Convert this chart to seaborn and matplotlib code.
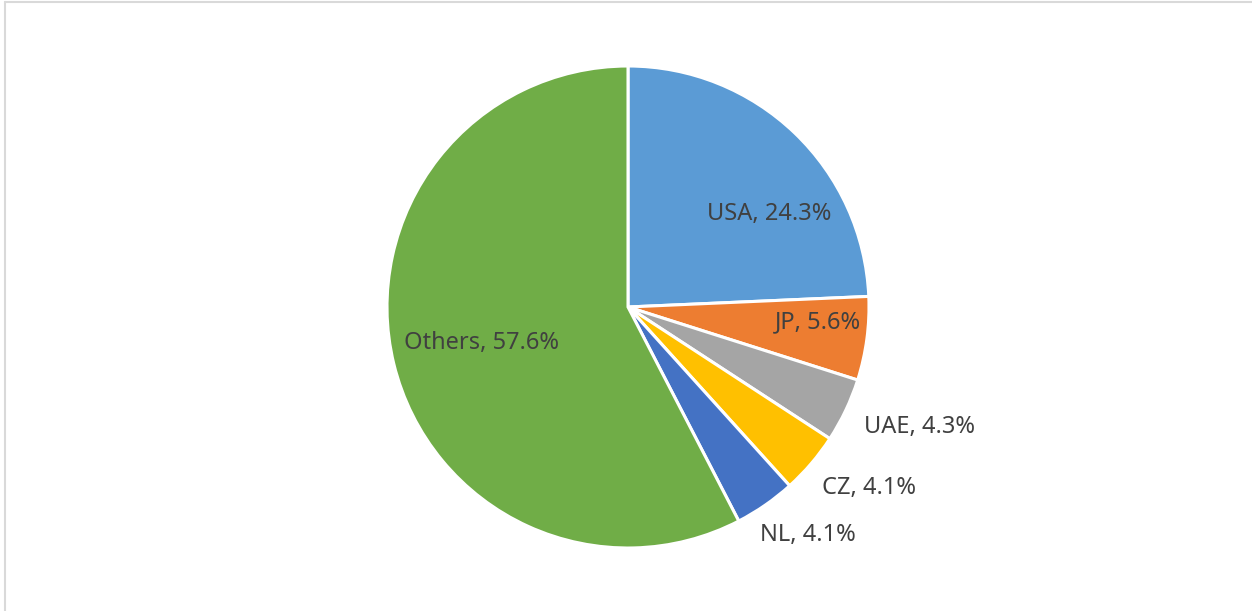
import numpy as np
import matplotlib
matplotlib.use('Agg')
import matplotlib.pyplot as plt
import seaborn as sns

# data
countries = ['USA', 'JP', 'UAE', 'CZ', 'NL', 'Others']
shares = [24.3, 5.6, 4.3, 4.1, 4.1, 57.6]
colors = ['#5B9BD5', '#ED7D31', '#A5A5A5', '#FFC000', '#4472C4', '#70AD47']

# label placement: (radius as fraction of pie radius, angle nudge in degrees)
label_layout = {
    'USA': (0.70, -13.0),
    'JP': (0.79, 3.0),
    'UAE': (1.31, 3.0),
    'CZ': (1.25, 3.6),
    'NL': (1.205, 3.5),
    'Others': (0.626, 0.0),
}

sns.set_theme(style='white')
plt.rcParams['font.family'] = ['Noto Sans', 'DejaVu Sans']

fig = plt.figure(figsize=(12.52, 6.11), dpi=100)
fig.patch.set_facecolor('white')

# pie axes: centre ~ (628, 307) px, radius ~241 px
W, H = 1252, 611
r_px = 241
ax = fig.add_axes([(628 - r_px) / W, (H - 307 - r_px) / H, 2 * r_px / W, 2 * r_px / H])

wedges, _ = ax.pie(shares, colors=colors, startangle=90, counterclock=False,
                   radius=1.0, wedgeprops=dict(edgecolor='white', linewidth=2.2))
ax.set_xlim(-1, 1)
ax.set_ylim(-1, 1)
ax.set_aspect('equal')
ax.axis('off')

for w, name, val in zip(wedges, countries, shares):
    r, nudge = label_layout[name]
    theta = np.deg2rad((w.theta1 + w.theta2) / 2 + nudge)
    ax.text(r * np.cos(theta), r * np.sin(theta), f'{name}, {val}%',
            ha='center', va='center', fontsize=17, color='#404040', clip_on=False)

# faint frame at the top and left like the original capture
fig.add_artist(plt.Line2D([5 / W, 1], [1 - 2 / H, 1 - 2 / H], color='#d9d9d9', lw=1.5))
fig.add_artist(plt.Line2D([5 / W, 5 / W], [0, 1 - 2 / H], color='#d9d9d9', lw=1.5))

fig.savefig('out.png', dpi=100, facecolor='white')
